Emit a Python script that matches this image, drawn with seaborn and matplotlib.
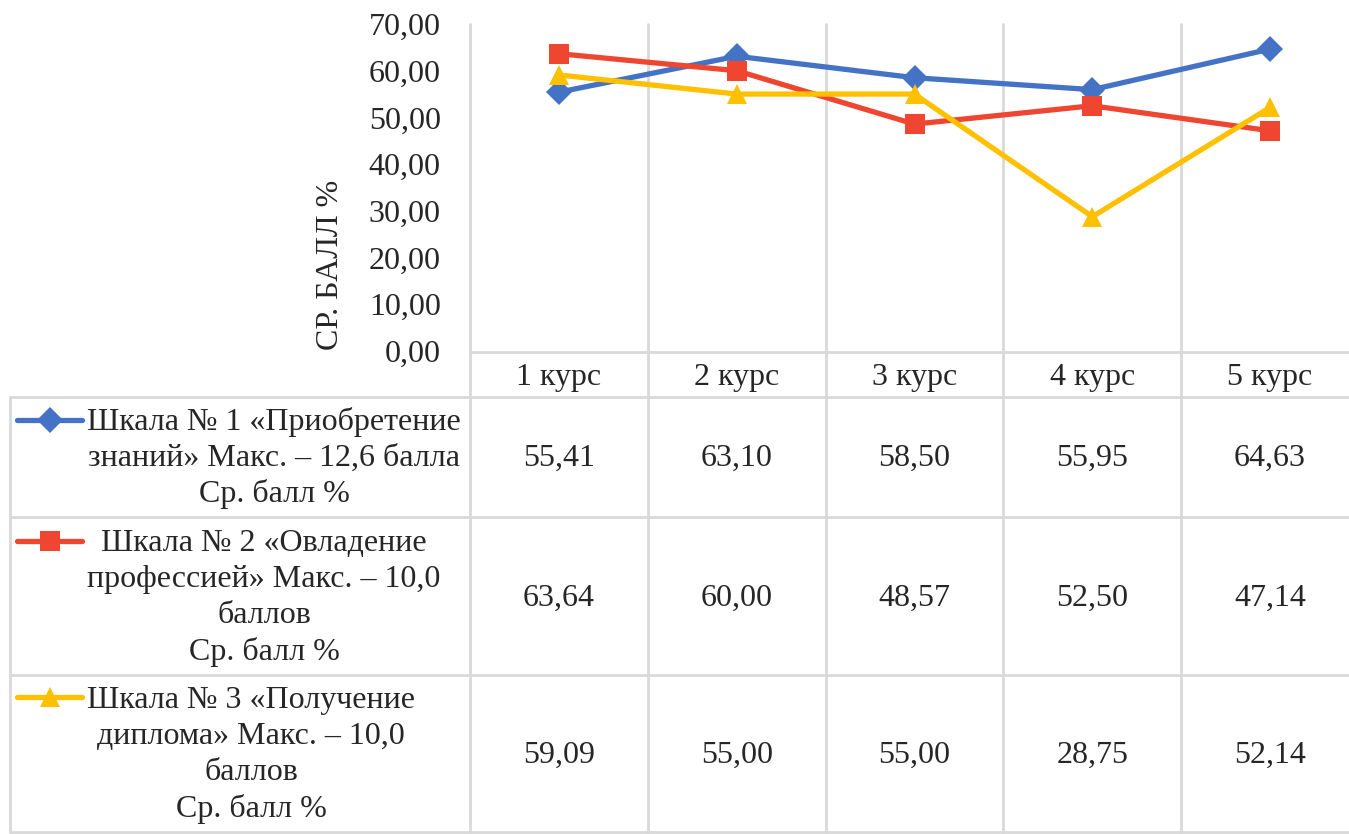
import pandas as pd
import seaborn as sns
import matplotlib.pyplot as plt
import matplotlib.transforms as mtransforms

# Data
courses = ["1 курс", "2 курс", "3 курс", "4 курс", "5 курс"]
series_labels = [
    "Шкала № 1 «Приобретение\nзнаний» Макс. – 12,6 балла\nСр. балл %",
    "Шкала № 2 «Овладение\nпрофессией» Макс. – 10,0\nбаллов\nСр. балл %",
    "Шкала № 3 «Получение\nдиплома» Макс. – 10,0\nбаллов\nСр. балл %",
]
scale1 = [55.41, 63.10, 58.50, 55.95, 64.63]
scale2 = [63.64, 60.00, 48.57, 52.50, 47.14]
scale3 = [59.09, 55.00, 55.00, 28.75, 52.14]
y_ticks = [0, 10, 20, 30, 40, 50, 60, 70]

colors = ["#4472C4", "#EE4631", "#FFC000"]
markers = ["D", "s", "^"]
msizes = [13, 14, 15]

sns.set_theme(style="white")
plt.rcParams['font.family'] = ['Liberation Serif', 'DejaVu Serif']
FS = 23
GRID = "#D9D9D9"

W, H = 1349, 834
fig = plt.figure(figsize=(W / 100, H / 100), dpi=100)

# overlay in pixel coordinates for the data table
ov = fig.add_axes([0, 0, 1, 1], zorder=0)
ov.set_xlim(0, W)
ov.set_ylim(H, 0)
ov.axis('off')

ax = fig.add_axes([470 / W, 1 - 351 / H, (1359 - 470) / W, (351 - 24) / H], zorder=1)
ax.patch.set_alpha(0)

df = pd.DataFrame({
    "pos": list(range(len(courses))) * 3,
    "value": scale1 + scale2 + scale3,
    "series": [s for s in ["s1", "s2", "s3"] for _ in courses],
})

for i, name in enumerate(["s1", "s2", "s3"]):
    sub = df[df["series"] == name]
    sns.lineplot(data=sub, x="pos", y="value", ax=ax, color=colors[i],
                 marker=markers[i], markersize=msizes[i], markeredgewidth=0,
                 linewidth=3.8, legend=False)

ax.set_xlim(-0.5, len(courses) - 0.5)
ax.set_ylim(0, 70)
ax.set_yticks(y_ticks)
ax.set_yticklabels([f"{v:.2f}".replace(".", ",") for v in y_ticks], fontsize=FS)
ax.set_xticks([])
ax.set_xlabel("")
ax.set_ylabel("")
ax.tick_params(axis='y', length=0, pad=21)
for sp in ax.spines.values():
    sp.set_visible(False)

fig.text(330 / W, 1 - 265 / H, "СР. БАЛЛ %", rotation=90, fontsize=FS,
         ha='center', va='center')

# x in category units, y in pixels
tr = mtransforms.blended_transform_factory(ax.transData, ov.transData)

# grid / table lines
for b in [i - 0.5 for i in range(len(courses))]:
    ov.plot([b, b], [24, 832], color=GRID, lw=2, transform=tr)
ov.plot([470, W], [352, 352], color=GRID, lw=2)
for yy in [397, 517, 675, 832]:
    ov.plot([10, W], [yy, yy], color=GRID, lw=2)
ov.plot([10, 10], [397, 832], color=GRID, lw=2)

# category labels
for i, c in enumerate(courses):
    ov.text(i, 377, c, transform=tr, fontsize=FS, ha='center', va='center')

# table rows
row_centers = [458, 598, 755]
label_x = [274, 264, 251]
key_y = [420, 541, 697]
for r, vals in enumerate([scale1, scale2, scale3]):
    for i, v in enumerate(vals):
        ov.text(i, row_centers[r], f"{v:.2f}".replace(".", ","), transform=tr,
                fontsize=FS, ha='center', va='center')
    ov.text(label_x[r], row_centers[r], series_labels[r], fontsize=FS, ha='center',
            va='center', multialignment='center', linespacing=1.31)
    ov.plot([17, 82], [key_y[r], key_y[r]], color=colors[r], lw=3.8)
    ov.plot([50], [key_y[r]], color=colors[r], marker=markers[r],
            markersize=msizes[r], markeredgewidth=0)

fig.savefig("out.png", dpi=100)
